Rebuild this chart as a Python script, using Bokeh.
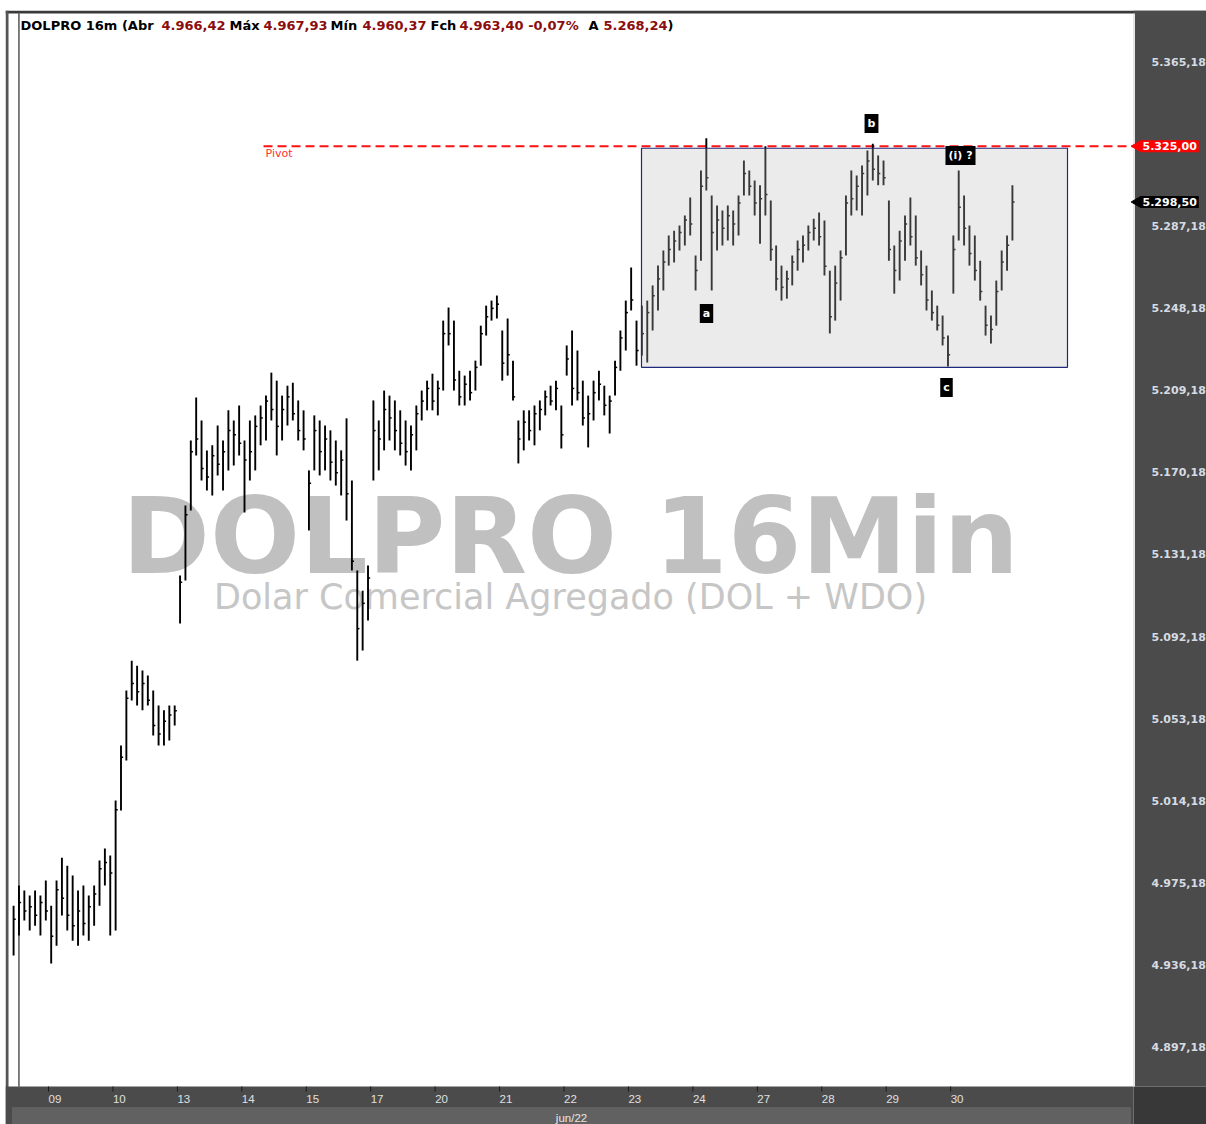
import math
from bokeh.plotting import figure
from bokeh.models import Range1d, Label, BoxAnnotation, ColumnDataSource
from bokeh.core.properties import value
from bokeh.embed import file_html
from bokeh.resources import INLINE

# ---------------- data ----------------
day_labels = ["08", "09", "10", "13", "14", "15", "17", "20", "21", "22", "23", "24", "27", "28", "29", "30"]
bars_per_day = [7, 12, 12, 12, 12, 12, 12, 12, 12, 12, 12, 12, 12, 12, 12, 12]
month_label = "jun/22"

highs = [
    4964.5, 4974.1, 4971.7, 4969.3, 4971.7, 4969.3, 4976.4,                                   # 08
    4964.5, 4976.4, 4987.3, 4983.5, 4978.8, 4971.7, 4974.1, 4969.3, 4974.1, 4985.9, 4991.6, 4988.3,  # 09
    5014.4, 5040.5, 5066.6, 5080.8, 5078.4, 5076.1, 5073.7, 5066.6, 5059.5, 5057.2, 5059.5, 5059.5,  # 10
    5121.2, 5154.4, 5185.3, 5205.7, 5194.8, 5180.6, 5183.0, 5192.4, 5185.3, 5199.6, 5194.8, 5201.9,  # 13
    5185.3, 5194.8, 5197.2, 5201.9, 5206.6, 5217.5, 5213.7, 5206.6, 5211.3, 5212.7, 5204.3, 5199.6,  # 14
    5171.1, 5197.2, 5194.8, 5192.4, 5190.1, 5185.3, 5180.6, 5195.8, 5166.3, 5123.6, 5114.0, 5126.0,  # 15
    5204.3, 5194.8, 5209.0, 5206.6, 5204.3, 5199.6, 5194.8, 5192.4, 5201.9, 5209.0, 5213.7, 5217.0,  # 17
    5213.7, 5242.2, 5248.4, 5242.2, 5218.4, 5216.1, 5218.4, 5223.2, 5239.8, 5249.3, 5251.7, 5254.1,  # 20
    5237.5, 5243.2, 5223.2, 5194.8, 5199.6, 5199.6, 5201.9, 5204.3, 5209.0, 5211.3, 5213.7, 5201.9,  # 21
    5230.4, 5237.5, 5228.0, 5213.7, 5206.6, 5213.7, 5218.4, 5211.3, 5206.6, 5223.2, 5237.5, 5251.7,  # 22
    5267.4, 5242.2, 5249.3, 5251.7, 5258.9, 5268.3, 5275.5, 5282.6, 5284.9, 5287.3, 5292.1, 5300.6,  # 23
    5273.1, 5313.5, 5328.7, 5301.6, 5296.8, 5294.5, 5296.8, 5294.5, 5301.6, 5318.2, 5313.5, 5308.7,  # 24
    5306.4, 5325.0, 5299.2, 5277.8, 5268.3, 5265.9, 5273.1, 5280.2, 5282.6, 5287.3, 5290.6, 5293.5,  # 27
    5289.7, 5265.9, 5268.3, 5275.5, 5301.6, 5313.5, 5311.1, 5315.8, 5322.9, 5326.2, 5320.6, 5318.2,  # 28
    5299.2, 5277.8, 5284.9, 5292.1, 5300.6, 5292.1, 5275.5, 5268.3, 5256.5, 5249.3, 5244.6, 5235.1,  # 29
    5282.6, 5313.5, 5301.6, 5287.3, 5282.6, 5270.6, 5249.3, 5244.6, 5261.2, 5275.5, 5282.6, 5306.4,  # 30
]
lows = [
    4940.8, 4950.3, 4957.4, 4952.7, 4955.0, 4950.3, 4957.4,
    4937.0, 4945.5, 4959.8, 4952.7, 4947.9, 4945.5, 4950.3, 4947.9, 4955.0, 4964.5, 4974.1, 4950.3,
    4952.7, 5009.7, 5033.4, 5061.9, 5059.5, 5057.2, 5059.5, 5045.3, 5040.5, 5040.5, 5042.9, 5050.0,
    5098.4, 5118.8, 5152.1, 5178.2, 5166.3, 5161.6, 5159.2, 5168.7, 5161.6, 5171.1, 5173.4, 5178.2,
    5151.1, 5166.3, 5171.1, 5183.0, 5185.3, 5194.8, 5178.2, 5185.3, 5192.4, 5194.8, 5185.3, 5180.6,
    5142.6, 5171.1, 5168.7, 5171.1, 5166.3, 5163.9, 5159.2, 5147.3, 5123.6, 5080.8, 5085.6, 5099.8,
    5166.3, 5171.1, 5180.6, 5185.3, 5180.6, 5178.2, 5173.4, 5171.1, 5180.6, 5194.8, 5199.6, 5199.6,
    5197.2, 5209.0, 5230.4, 5209.0, 5201.9, 5201.9, 5204.3, 5209.0, 5220.8, 5235.1, 5242.2, 5243.2,
    5213.7, 5216.1, 5204.3, 5174.4, 5180.6, 5185.3, 5183.0, 5190.1, 5197.2, 5201.9, 5199.6, 5181.5,
    5216.1, 5201.9, 5204.3, 5192.4, 5182.0, 5194.8, 5204.3, 5197.2, 5188.6, 5206.6, 5218.4, 5228.0,
    5247.0, 5220.8, 5225.6, 5222.3, 5237.5, 5247.0, 5256.5, 5268.3, 5269.8, 5275.5, 5277.8, 5282.6,
    5256.5, 5270.6, 5304.0, 5256.5, 5275.5, 5277.8, 5280.2, 5277.8, 5282.6, 5301.6, 5301.6, 5292.1,
    5278.7, 5292.1, 5270.6, 5256.5, 5251.7, 5252.6, 5258.9, 5265.9, 5269.8, 5275.5, 5280.2, 5277.8,
    5263.6, 5236.1, 5242.2, 5251.7, 5273.1, 5292.1, 5294.5, 5292.1, 5301.6, 5308.7, 5306.4, 5306.4,
    5270.6, 5255.0, 5261.2, 5270.6, 5277.8, 5268.3, 5258.9, 5247.0, 5242.2, 5237.5, 5230.4, 5220.4,
    5255.0, 5280.2, 5277.8, 5268.3, 5261.2, 5251.7, 5235.1, 5231.3, 5239.8, 5256.5, 5265.9, 5280.2,
]
closes = [
    4958, 4966, 4962, 4964, 4960, 4966, 4962,
    4950, 4972, 4968, 4960, 4955, 4962, 4956, 4964, 4970, 4982, 4985, 4980,
    5010, 5035, 5063, 5070, 5066, 5070, 5062, 5050, 5046, 5052, 5055, 5057,
    5118, 5150, 5180, 5186, 5172, 5168, 5178, 5174, 5180, 5190, 5188, 5184,
    5176, 5180, 5192, 5196, 5204, 5200, 5192, 5200, 5206, 5198, 5190, 5186,
    5165, 5190, 5180, 5186, 5175, 5170, 5176, 5160, 5128, 5096, 5108, 5120,
    5190, 5186, 5200, 5196, 5190, 5184, 5180, 5188, 5198, 5204, 5210, 5204,
    5210, 5236, 5236, 5214, 5206, 5212, 5208, 5220, 5236, 5244, 5248, 5250,
    5222, 5226, 5206, 5186, 5194, 5190, 5198, 5200, 5206, 5204, 5210, 5188,
    5224, 5210, 5208, 5196, 5198, 5208, 5212, 5202, 5204, 5220, 5234, 5246,
    5252, 5228, 5236, 5246, 5254, 5262, 5270, 5276, 5280, 5284, 5290, 5288,
    5266, 5306, 5310, 5284, 5290, 5286, 5292, 5288, 5298, 5312, 5306, 5298,
    5300, 5302, 5276, 5262, 5258, 5262, 5270, 5276, 5278, 5284, 5286, 5282,
    5268, 5244, 5260, 5272, 5298, 5300, 5306, 5312, 5318, 5314, 5312, 5310,
    5276, 5266, 5280, 5288, 5282, 5272, 5264, 5252, 5246, 5240, 5234, 5226,
    5276, 5296, 5286, 5274, 5266, 5256, 5240, 5238, 5256, 5270, 5278, 5298.5,
]

price_ticks = [5365.18, 5287.18, 5248.18, 5209.18, 5170.18, 5131.18, 5092.18,
               5053.18, 5014.18, 4975.18, 4936.18, 4897.18]
price_tick_labels = ["5.365,18", "5.287,18", "5.248,18", "5.209,18", "5.170,18", "5.131,18",
                     "5.092,18", "5.053,18", "5.014,18", "4.975,18", "4.936,18", "4.897,18"]

pivot = 5325.00
pivot_label = "5.325,00"
last_label = "5.298,50"
box_top = 5324.0
box_bottom = 5220.0
cursor_bar = 1

header_parts = [("DOLPRO 16m (Abr", "#000000"), ("4.966,42", "#8b0d0d"), ("Máx", "#000000"),
                ("4.967,93", "#8b0d0d"), ("Mín", "#000000"), ("4.960,37", "#8b0d0d"),
                ("Fch", "#000000"), ("4.963,40 -0,07%", "#8b0d0d"), ("A", "#000000"),
                ("5.268,24", "#8b0d0d"), (")", "#000000")]
wave_texts = ["a", "b", "c", "(i) ?"]

# ---------------- layout helpers (reference pixel -> data) ----------------
PX_PER_BAR = 5.37
PT_PER_PX = 0.47465


def dx(px):
    return -0.076 + (px - 10) / PX_PER_BAR


def dy(py):
    return 5388.44 - (py - 12) * PT_PER_PX


# frame covers the whole canvas except a 5px left / 10px top page strip;
# the dark price/time scales are painted inside it.
X0, X1 = dx(5), dx(1206)
Y0, Y1 = dy(1124), dy(10)

n = len(highs)
xs = [i + 0.5 for i in range(n)]
src = ColumnDataSource(dict(x=xs, high=highs, low=lows, close=closes,
                            xt=[x + 0.4 for x in xs]))

day_starts = []
acc = 0
for c in bars_per_day:
    day_starts.append(acc)
    acc += c

p = figure(width=1206, height=1124, output_backend="svg", toolbar_location=None,
           x_range=Range1d(X0, X1), y_range=Range1d(Y0, Y1),
           x_axis_location=None, y_axis_location=None,
           min_border_left=5, min_border_top=10, min_border_right=0, min_border_bottom=0)
p.border_fill_color = "#ffffff"
p.background_fill_color = "#ffffff"
p.outline_line_color = None
p.grid.visible = False


def band(color, level="underlay", **kw):
    return BoxAnnotation(fill_color=color, fill_alpha=1.0, line_color=None, level=level, **kw)


# scale panels
p.add_layout(band("#3a3a3a", bottom=dy(13)))                                  # top dark line
p.add_layout(band("#555555", right=dx(8)))                                     # left dark bar
p.add_layout(band("#4b4b4b", left=dx(1133), bottom=dy(1086)))                  # price scale
p.add_layout(band("#4b4b4b", top=dy(1086), right=dx(1133)))                    # time scale
p.add_layout(band("#383838", left=dx(1133), top=dy(1086)))                     # corner
p.add_layout(BoxAnnotation(left=dx(12), right=dx(1130), top=dy(1107), fill_color="#616161",
                           fill_alpha=1.0, line_color="#7a7a7a", line_width=1, level="underlay"))

# watermark (under the bars)
p.add_layout(Label(x=dx(570), y=dy(536), text="DOLPRO 16Min", text_align="center",
                   text_baseline="alphabetic", text_font="DejaVu Sans", text_font_style="bold",
                   text_font_size="106px", text_color="#c0c0c0", level="underlay"))
p.add_layout(Label(x=dx(570), y=dy(596), text="Dolar Comercial Agregado (DOL + WDO)",
                   text_align="center", text_baseline="alphabetic", text_font="DejaVu Sans",
                   text_font_size="35px", text_color="#c6c6c6", level="underlay"))

# scale edge line
p.segment(x0=[dx(1133.5)], y0=[dy(13)], x1=[dx(1133.5)], y1=[dy(1086)],
          line_color="#e6e6e6", line_width=2)

# price scale labels
p.text(x=[dx(1151)] * len(price_ticks), y=price_ticks, text=price_tick_labels,
       text_font=value("DejaVu Sans"), text_font_style="bold", text_font_size="11px",
       text_color="#d5dce4", text_align="left", text_baseline="middle")

# time scale: tick marks + day labels + month
p.segment(x0=day_starts[1:], y0=[dy(1086)] * (len(day_starts) - 1),
          x1=day_starts[1:], y1=[dy(1091)] * (len(day_starts) - 1),
          line_color="#1a1a1a", line_width=1)
p.text(x=day_starts[1:], y=[dy(1098)] * (len(day_starts) - 1), text=day_labels[1:],
       x_offset=0, text_font=value("Liberation Sans"), text_font_size="11.5px",
       text_color="#e0e0e0", text_align="left", text_baseline="middle")
p.add_layout(Label(x=dx(571), y=dy(1117), text=month_label, text_align="center",
                   text_baseline="middle", text_color="#e6e6e6",
                   text_font="Liberation Sans", text_font_size="11.5px"))

# pivot line
p.segment(x0=[dx(263)], y0=[pivot], x1=[dx(1133)], y1=[pivot], line_color="#ff1010",
          line_width=2, line_dash="9 5")
p.add_layout(Label(x=dx(265), y=dy(153), text="Pivot", text_color="#ff3030",
                   text_font="DejaVu Sans", text_font_size="11px", text_baseline="middle"))

# OHLC bars (high-low + close tick)
p.segment(x0="x", y0="low", x1="x", y1="high", source=src, line_color="#000000", line_width=1.9)
p.segment(x0="x", y0="close", x1="xt", y1="close", source=src, line_color="#000000", line_width=1.5)

# cursor line
p.segment(x0=[cursor_bar + 0.5], y0=[dy(13)], x1=[cursor_bar + 0.5], y1=[dy(1086)],
          line_color="#000000", line_width=1)

# consolidation box (translucent, over the bars)
p.add_layout(BoxAnnotation(left=dx(641), right=dx(1067), top=box_top, bottom=box_bottom,
                           fill_color="#bdbdbd", fill_alpha=0.3, line_color="#20287a",
                           line_width=1.2, line_alpha=1.0))

# wave labels
wave_pos = [(706, 313), (871, 123), (946, 387), (960, 155)]
for t, (wx, wy) in zip(wave_texts, wave_pos):
    p.add_layout(Label(x=dx(wx), y=dy(wy), text=t, text_align="center", text_baseline="middle",
                       text_font="DejaVu Sans", text_font_style="bold", text_font_size="11px",
                       text_color="#ffffff", background_fill_color="#000000", padding=3))

# header
header_x = [20, 161, 229, 263, 330, 362, 430, 459, 588, 603, 667]
for (t, col), hx in zip(header_parts, header_x):
    p.add_layout(Label(x=dx(hx), y=dy(25), text=t, text_color=col, text_font="DejaVu Sans",
                       text_font_style="bold", text_font_size="13px", text_baseline="middle"))

# price tags on the scale (arrow + label)
p.scatter(x=[dx(1137), dx(1137)], y=[pivot, closes[-1]], marker="triangle", angle=math.pi / 2,
          size=11, fill_color=["#ff0000", "#000000"], line_color=["#ff0000", "#000000"])
p.add_layout(Label(x=dx(1140), y=pivot, text=pivot_label, text_color="#ffffff",
                   background_fill_color="#ff0000", text_font="DejaVu Sans", text_font_style="bold",
                   text_font_size="11px", text_baseline="middle", padding=2))
p.add_layout(Label(x=dx(1140), y=closes[-1], text=last_label, text_color="#ffffff",
                   background_fill_color="#000000", text_font="DejaVu Sans", text_font_style="bold",
                   text_font_size="11px", text_baseline="middle", padding=2))

open("out.html", "w").write(file_html(p, INLINE))
